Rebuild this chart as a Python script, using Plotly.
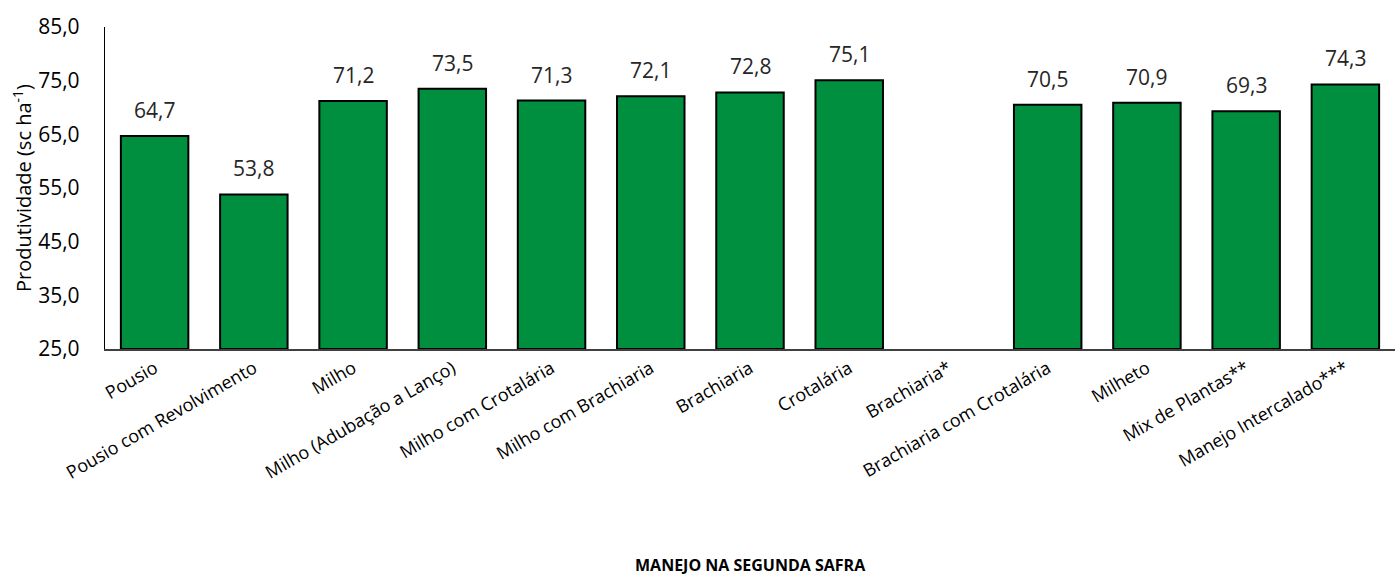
import plotly.graph_objects as go

categories = ["Pousio", "Pousio com Revolvimento", "Milho", "Milho (Adubação a Lanço)",
              "Milho com Crotalária", "Milho com Brachiaria", "Brachiaria", "Crotalária",
              "Brachiaria*", "Brachiaria com Crotalária", "Milheto", "Mix de Plantas**",
              "Manejo Intercalado***"]
values = [64.7, 53.8, 71.2, 73.5, 71.3, 72.1, 72.8, 75.1, None, 70.5, 70.9, 69.3, 74.3]
labels = ["" if v is None else f"{v:.1f}".replace(".", ",") for v in values]
y_ticks = [25, 35, 45, 55, 65, 75, 85]
y_tick_text = [f"{t:.1f}".replace(".", ",") for t in y_ticks]

FONT = "Open Sans, sans-serif"
BASE = 25

fig = go.Figure()
fig.add_trace(go.Bar(
    x=categories, y=[None if v is None else v - BASE for v in values], base=BASE,
    marker=dict(color="#008F3F", line=dict(color="#000000", width=2)),
    width=0.68,
    hoverinfo="skip",
))

annotations = []
for c, v, t in zip(categories, values, labels):
    if v is None:
        continue
    annotations.append(dict(
        x=c, y=v, xref="x", yref="y", text=t, showarrow=False,
        yanchor="bottom", xanchor="center", yshift=10,
        font=dict(family=FONT, size=21, color="#262626"),
    ))

annotations.append(dict(
    text="<b>MANEJO NA SEGUNDA SAFRA</b>", xref="paper", yref="paper",
    x=0.5, y=0, yshift=-229, xanchor="center", yanchor="bottom", showarrow=False,
    font=dict(family=FONT, size=16, color="#000000"),
))
annotations.append(dict(
    text="Produtividade (sc ha<sup>-1</sup>)", xref="paper", yref="paper",
    x=0, y=0.5, xshift=-83, xanchor="center", yanchor="middle", textangle=-90,
    showarrow=False, font=dict(family=FONT, size=20, color="#000000"),
))

fig.update_layout(
    width=1397, height=577,
    margin=dict(l=105, r=2, t=27, b=228),
    paper_bgcolor="white", plot_bgcolor="white",
    showlegend=False,
    font=dict(family=FONT, color="#000000"),
    xaxis=dict(
        type="category", tickangle=-30, tickfont=dict(family=FONT, size=18, color="#000000"),
        showline=True, linecolor="#404040", linewidth=2, ticks="", showgrid=False,
        range=[-0.5, 12.5], automargin=False,
    ),
    yaxis=dict(
        range=[BASE, 85], tickvals=y_ticks, ticktext=y_tick_text,
        tickfont=dict(family=FONT, size=21, color="#000000"),
        showline=True, linecolor="#000000", linewidth=1.3, ticks="", showgrid=False,
        zeroline=False, automargin=False, ticklabelstandoff=20,
    ),
    annotations=annotations,
)

fig.write_html("out.html", config={"displayModeBar": False},
               post_script="document.body.style.margin='0px';document.body.style.overflow='hidden';")
